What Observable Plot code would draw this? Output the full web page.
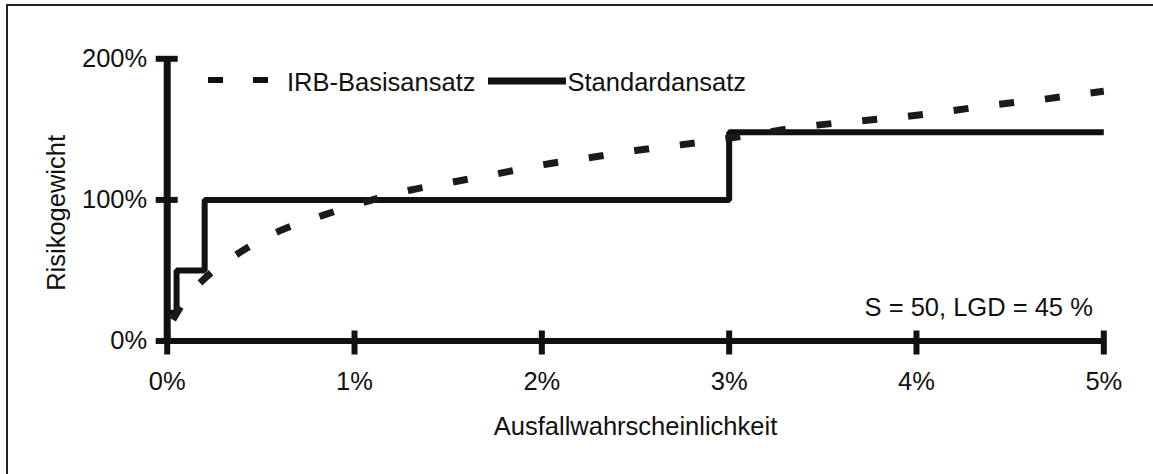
<!DOCTYPE html>
<html>
<head>
<meta charset="utf-8">
<script src="https://cdn.jsdelivr.net/npm/d3@7"></script>
<script src="https://cdn.jsdelivr.net/npm/@observablehq/plot@0.6"></script>
<style>
  html, body { margin: 0; padding: 0; background: #fff; }
  body { font-family: "Liberation Sans", Arial, sans-serif; color: #111; }
  #wrap { position: relative; width: 1153px; height: 474px; overflow: hidden; }
  #border { position: absolute; left: 6px; top: 4px; right: -10px; bottom: -10px;
            border-top: 2px solid #222; border-left: 2px solid #222; pointer-events: none; }
  #legend { position: absolute; left: 208px; top: 67px; height: 30px; display: flex; align-items: center;
            font-size: 25.5px; color: #111; }
  #legend .item { display: flex; align-items: center; }
  #legend svg { display: block; }
  svg { display: block; }
</style>
</head>
<body>
<div id="wrap">
  <div id="chart"></div>
  <div id="legend"></div>
  <div id="border"></div>
</div>
<script>
// ---- data ----
const seriesNames = ["IRB-Basisansatz", "Standardansatz"];

// Ausfallwahrscheinlichkeit (PD, %) and Risikogewicht (%) — IRB-Basisansatz
const irbPd = [0.03, 0.10, 0.19, 0.39, 0.60, 0.83, 1.30, 1.54, 1.78, 2.01, 2.26, 2.50, 2.74, 2.96, 3.47, 3.70, 3.94, 4.18, 4.42, 4.66, 4.88, 5.00];
const irbRw = [15, 30, 43, 63, 78, 89, 107, 113, 119, 125, 130, 135, 139, 143, 153, 156, 159, 163, 167.5, 171, 175, 177];

// Standardansatz (step function)
const stdPd = [0, 0.05, 0.2, 3, 5];
const stdRw = [20, 50, 100, 148, 148];

const xTicks = [0, 1, 2, 3, 4, 5];
const yTicks = [0, 100, 200];
const xLabel = "Ausfallwahrscheinlichkeit";
const yLabel = "Risikogewicht";
const note = "S = 50, LGD = 45 %";

// ---- build ----
const irb = irbPd.map((d, i) => ({pd: d, rw: irbRw[i]}));
const std = stdPd.map((d, i) => ({pd: d, rw: stdRw[i]}));
const ink = "#111";
const fs = 25.5;

const chart = Plot.plot({
  width: 1153,
  height: 474,
  marginLeft: 166.7,
  marginRight: 49.7,
  marginTop: 58.3,
  marginBottom: 133.5,
  x: {domain: [0, 5]},
  y: {domain: [0, 200]},
  style: {fontFamily: "'Liberation Sans', Arial, sans-serif", fontSize: fs + "px", color: ink, background: "transparent"},
  marks: [
    // series
    Plot.line(std, {x: "pd", y: "rw", curve: "step-after", stroke: ink, strokeWidth: 6, strokeLinejoin: "miter", strokeLinecap: "butt"}),
    Plot.line(irb, {x: "pd", y: "rw", curve: "monotone-x", stroke: "#1a1a1a", strokeWidth: 7, strokeDasharray: "15,31", strokeLinecap: "butt"}),
    // axis lines
    Plot.ruleY([0], {stroke: ink, strokeWidth: 6}),
    Plot.ruleX([0], {stroke: ink, strokeWidth: 7}),
    // ticks crossing the axes (tick marks only)
    Plot.axisX({ticks: xTicks, anchor: "bottom", tickSize: 24, dy: -10, strokeWidth: 6, stroke: ink, fill: "none", label: null}),
    Plot.axisY({ticks: yTicks, anchor: "left", tickSize: 22, dx: 11, strokeWidth: 6, stroke: ink, fill: "none", label: null}),
    // tick labels
    Plot.axisX({ticks: xTicks, anchor: "bottom", tickSize: 0, tickPadding: 31, tickFormat: d => d + "%", label: null, fontSize: fs, fill: ink}),
    Plot.axisY({ticks: yTicks, anchor: "left", tickSize: 0, tickPadding: 20, tickFormat: d => d + "%", label: null, fontSize: fs, fill: ink}),
    // axis titles
    Plot.text([xLabel], {text: d => d, frameAnchor: "bottom", dy: 86, lineAnchor: "middle", fontSize: fs, fill: ink}),
    Plot.text([yLabel], {text: d => d, frameAnchor: "left", rotate: -90, dx: -110, dy: 13, textAnchor: "middle", lineAnchor: "middle", fontSize: fs, fill: ink}),
    // annotation
    Plot.text([note], {text: d => d, frameAnchor: "bottom-right", dx: -11, dy: -33, textAnchor: "end", lineAnchor: "middle", fontSize: fs, fill: ink})
  ]
});
document.getElementById("chart").appendChild(chart);

// ---- legend ----
const legend = document.getElementById("legend");
const ns = "http://www.w3.org/2000/svg";
function swatch(w, dash, sw, offsetY) {
  const s = document.createElementNS(ns, "svg");
  s.setAttribute("width", w);
  s.setAttribute("height", 12);
  s.style.position = "relative";
  s.style.top = offsetY + "px";
  const l = document.createElementNS(ns, "line");
  l.setAttribute("x1", 0); l.setAttribute("x2", w);
  l.setAttribute("y1", 6); l.setAttribute("y2", 6);
  l.setAttribute("stroke", ink);
  l.setAttribute("stroke-width", sw);
  if (dash) l.setAttribute("stroke-dasharray", dash);
  s.appendChild(l);
  return s;
}
const specs = [
  {name: seriesNames[0], w: 60, dash: "15,30", sw: 6, gap: 19, off: -2, after: 12},
  {name: seriesNames[1], w: 78, dash: null, sw: 7, gap: 2, off: -1, after: 0}
];
specs.forEach(sp => {
  const it = document.createElement("div");
  it.className = "item";
  it.style.marginRight = sp.after + "px";
  it.appendChild(swatch(sp.w, sp.dash, sp.sw, sp.off));
  const t = document.createElement("span");
  t.textContent = sp.name;
  t.style.marginLeft = sp.gap + "px";
  it.appendChild(t);
  legend.appendChild(it);
});
</script>
</body>
</html>
